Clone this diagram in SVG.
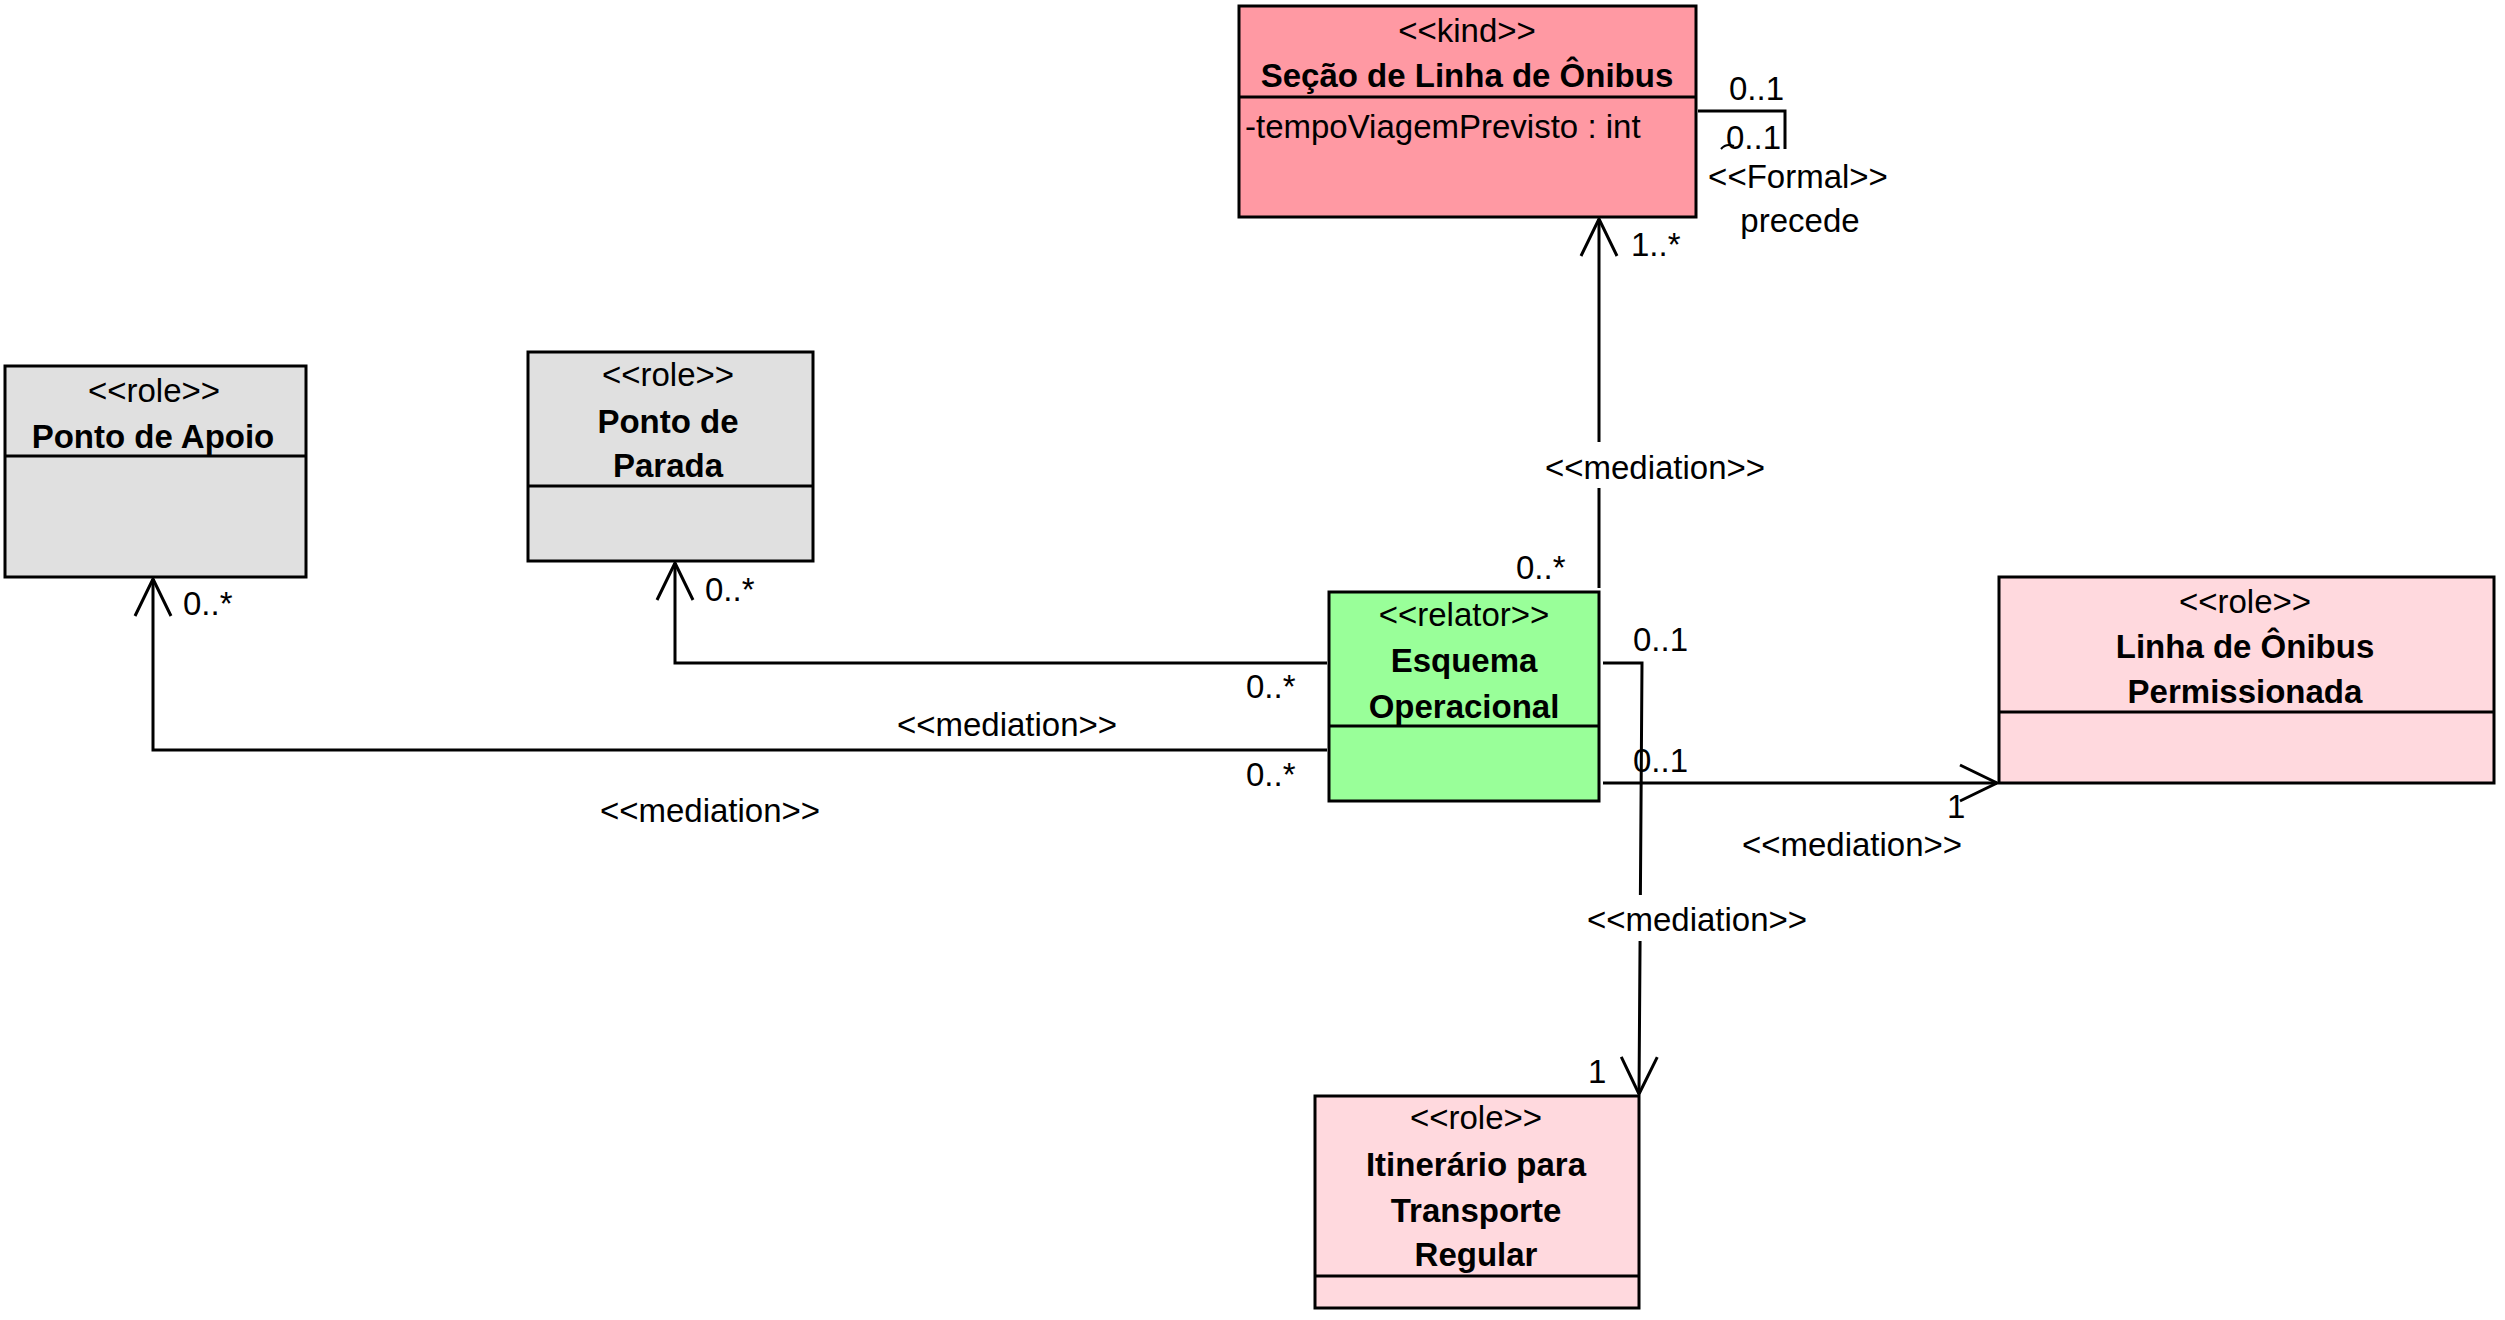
<svg xmlns="http://www.w3.org/2000/svg" width="2505" height="1320" viewBox="0 0 2505 1320">
<style>
text{font-family:"Liberation Sans",Arial,sans-serif;font-size:33px;fill:#000}
.b{font-weight:bold}
.c{text-anchor:middle}
.box{stroke:#000;stroke-width:3}
.div{stroke:#000;stroke-width:3}
.kind{fill:#FF99A3}
.role{fill:#E0E0E0}
.rel{fill:#99FF99}
.prole{fill:#FFD9DE}
.ln{fill:none;stroke:#000;stroke-width:3}
.lbg{fill:#fff}
</style>
<defs>
<marker id="open" markerUnits="userSpaceOnUse" orient="auto" overflow="visible" markerWidth="1" markerHeight="1" refX="0" refY="0">
<path d="M-37,-18 L0,0 L-37,18" fill="none" stroke="#000" stroke-width="3"/>
</marker>
</defs>
<rect x="0" y="0" width="2505" height="1320" fill="#fff"/>

<g id="connectors">
<path class="ln" d="M1599,588 L1599,219" marker-end="url(#open)"/>
<rect class="lbg" x="1546" y="442" width="218" height="46"/>
<text class="c" x="1655" y="479">&lt;&lt;mediation&gt;&gt;</text>
<text x="1631" y="256">1..*</text>
<text x="1516" y="579">0..*</text>

<path class="ln" d="M1327,663 L675,663 L675,563" marker-end="url(#open)"/>
<text x="705" y="601">0..*</text>
<text x="1246" y="698">0..*</text>
<text class="c" x="1007" y="736">&lt;&lt;mediation&gt;&gt;</text>

<path class="ln" d="M1327,750 L153,750 L153,579" marker-end="url(#open)"/>
<text x="183" y="615">0..*</text>
<text x="1246" y="786">0..*</text>
<text class="c" x="710" y="822">&lt;&lt;mediation&gt;&gt;</text>

<path class="ln" d="M1603,783 L1997,783" marker-end="url(#open)"/>
<text x="1633" y="772">0..1</text>
<text x="1947" y="818">1</text>
<text class="c" x="1852" y="856">&lt;&lt;mediation&gt;&gt;</text>

<path class="ln" d="M1603,663 L1642,663 L1639,1094" marker-end="url(#open)"/>
<rect class="lbg" x="1588" y="895" width="218" height="46"/>
<text class="c" x="1697" y="931">&lt;&lt;mediation&gt;&gt;</text>
<text x="1633" y="651">0..1</text>
<text x="1588" y="1083">1</text>

<path class="ln" d="M1698,111 L1785,111 L1785,149"/>
<path d="M1721,149 Q1726,143 1734,146" fill="none" stroke="#000" stroke-width="2"/>
<text x="1729" y="100">0..1</text>
<text x="1726" y="149">0..1</text>
<text class="c" x="1798" y="188">&lt;&lt;Formal&gt;&gt;</text>
<text class="c" x="1800" y="232">precede</text>
</g>

<g id="secao">
<rect class="box kind" x="1239" y="6" width="457" height="211"/>
<line class="div" x1="1239" y1="97" x2="1696" y2="97"/>
<text class="c" x="1467" y="42">&lt;&lt;kind&gt;&gt;</text>
<text class="c b" x="1467" y="87">Seção de Linha de Ônibus</text>
<text x="1245" y="138">-tempoViagemPrevisto : int</text>
</g>

<g id="ponto-apoio">
<rect class="box role" x="5" y="366" width="301" height="211"/>
<line class="div" x1="5" y1="456" x2="306" y2="456"/>
<text class="c" x="154" y="402">&lt;&lt;role&gt;&gt;</text>
<text class="c b" x="153" y="448">Ponto de Apoio</text>
</g>

<g id="ponto-parada">
<rect class="box role" x="528" y="352" width="285" height="209"/>
<line class="div" x1="528" y1="486" x2="813" y2="486"/>
<text class="c" x="668" y="386">&lt;&lt;role&gt;&gt;</text>
<text class="c b" x="668" y="433">Ponto de</text>
<text class="c b" x="668" y="477">Parada</text>
</g>

<g id="esquema">
<rect class="box rel" x="1329" y="592" width="270" height="209"/>
<line class="div" x1="1329" y1="726" x2="1599" y2="726"/>
<text class="c" x="1464" y="626">&lt;&lt;relator&gt;&gt;</text>
<text class="c b" x="1464" y="672">Esquema</text>
<text class="c b" x="1464" y="718">Operacional</text>
</g>

<g id="linha">
<rect class="box prole" x="1999" y="577" width="495" height="206"/>
<line class="div" x1="1999" y1="712" x2="2494" y2="712"/>
<text class="c" x="2245" y="613">&lt;&lt;role&gt;&gt;</text>
<text class="c b" x="2245" y="658">Linha de Ônibus</text>
<text class="c b" x="2245" y="703">Permissionada</text>
</g>

<g id="itinerario">
<rect class="box prole" x="1315" y="1096" width="324" height="212"/>
<line class="div" x1="1315" y1="1276" x2="1639" y2="1276"/>
<text class="c" x="1476" y="1129">&lt;&lt;role&gt;&gt;</text>
<text class="c b" x="1476" y="1176">Itinerário para</text>
<text class="c b" x="1476" y="1222">Transporte</text>
<text class="c b" x="1476" y="1266">Regular</text>
</g>
</svg>
